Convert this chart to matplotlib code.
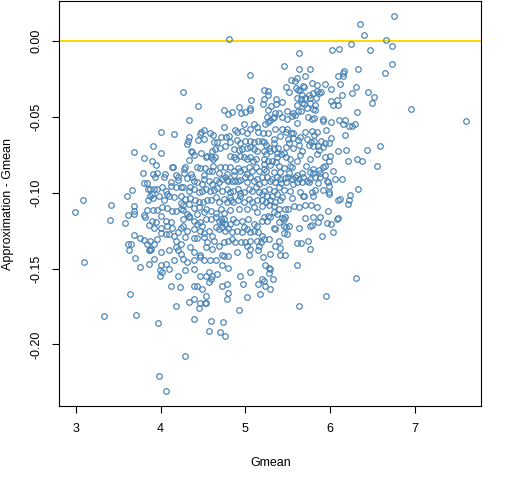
import matplotlib
matplotlib.use("Agg")
import matplotlib.pyplot as plt
import numpy as np

plt.rcParams['font.family'] = ['Liberation Sans', 'DejaVu Sans']

# (Gmean, Approximation - Gmean) pairs, region by region

# points round the edge of the cloud
edge_pts = [
    (6.76, 0.016), (6.35, 0.011), (6.40, 0.004), (4.81, 0.001), (6.66, 0.0007),
    (6.73, -0.0033), (6.25, -0.002), (5.63, -0.0079), (6.02, -0.0059), (6.11, -0.0053),
    (6.47, -0.0059), (6.73, -0.0151), (6.65, -0.021), (6.52, -0.037), (6.49, -0.041),
    (6.95, -0.0447), (7.60, -0.0526), (6.59, -0.069), (6.55, -0.0827),
    (3.80, -0.077), (3.79, -0.087), (3.84, -0.094), (3.81, -0.0936), (3.60, -0.102),
    (3.66, -0.098), (3.41, -0.108), (3.09, -0.105), (2.99, -0.1125), (3.40, -0.118),
    (3.58, -0.120), (3.69, -0.109), (3.69, -0.112), (3.69, -0.114), (3.62, -0.1145),
    (3.87, -0.0974), (3.85, -0.0974), (3.69, -0.073), (3.80, -0.115), (3.82, -0.116),
    (3.86, -0.1215), (3.84, -0.1116), (3.85, -0.105), (3.87, -0.102), (3.69, -0.1276),
    (3.61, -0.1336), (3.65, -0.1336), (3.63, -0.1375), (3.70, -0.143), (3.76, -0.1296),
    (3.80, -0.131), (3.87, -0.1375), (3.86, -0.1375), (3.84, -0.1336), (3.86, -0.1467),
    (3.76, -0.149), (3.10, -0.146), (3.87, -0.1316),
    (5.63, -0.175), (5.95, -0.168), (5.17, -0.1665), (5.02, -0.169), (4.93, -0.1775),
    (4.80, -0.166), (4.78, -0.170), (4.74, -0.1855), (4.70, -0.192), (4.76, -0.1945),
    (4.60, -0.1845), (4.57, -0.191), (4.53, -0.168), (4.52, -0.1726), (4.54, -0.173),
    (4.47, -0.173), (4.45, -0.176), (4.34, -0.172), (4.40, -0.170), (4.39, -0.183),
    (4.18, -0.175), (3.97, -0.186), (4.29, -0.2077), (3.98, -0.221), (4.06, -0.2307),
    (3.64, -0.1665), (3.33, -0.181), (3.71, -0.1807),
]

# upper left of the cloud
upper_left_pts = [
    (5.06, -0.0226), (4.27, -0.0338), (4.44, -0.0430), (4.33, -0.0522), (4.745, -0.0457),
    (4.80, -0.0483), (4.84, -0.0470), (4.93, -0.0437), (4.95, -0.0474), (5.00, -0.0472),
    (5.05, -0.0457), (5.06, -0.0446), (5.07, -0.0391), (4.00, -0.0601), (4.16, -0.0614),
    (3.91, -0.0693), (4.00, -0.0739), (4.31, -0.068), (4.325, -0.0658), (4.337, -0.0636),
    (4.46, -0.0614), (4.48, -0.0599), (4.51, -0.0588), (4.51, -0.0650), (4.443, -0.0654),
    (4.58, -0.0608), (4.62, -0.0619), (4.627, -0.0669), (4.666, -0.0665), (4.713, -0.0636),
    (4.776, -0.0636), (4.807, -0.0625), (4.815, -0.0669), (4.76, -0.0691), (4.70, -0.0707),
    (4.64, -0.0713), (4.607, -0.0724), (4.596, -0.0768), (4.62, -0.0779), (4.64, -0.0768),
    (4.549, -0.0757), (4.53, -0.0768), (4.478, -0.0737), (4.39, -0.0753), (4.353, -0.0724),
    (4.372, -0.0735), (4.333, -0.0785), (4.753, -0.0566), (4.882, -0.0588), (4.902, -0.0603),
    (4.956, -0.0597), (4.98, -0.0549), (5.023, -0.0610), (5.05, -0.0582), (5.098, -0.0549),
    (5.137, -0.0571), (5.149, -0.0603), (4.898, -0.0654), (4.94, -0.0671), (5.00, -0.0658),
    (5.058, -0.0663), (5.105, -0.0669), (5.149, -0.0658), (4.862, -0.0715), (4.921, -0.0720),
    (4.96, -0.0713), (5.019, -0.0707), (5.058, -0.0698), (5.098, -0.0713), (5.137, -0.0729),
    (4.815, -0.0757), (4.862, -0.0768), (4.894, -0.0781), (4.94, -0.0759), (4.98, -0.0768),
    (5.019, -0.0779), (5.058, -0.0768), (5.09, -0.0790), (5.13, -0.0779), (3.894, -0.0790),
    (3.95, -0.0818), (4.129, -0.0829), (4.149, -0.0829), (4.286, -0.0829), (4.274, -0.0847),
    (4.431, -0.0829), (4.47, -0.0838), (4.52, -0.0838), (4.568, -0.0856), (4.619, -0.0823),
    (4.611, -0.0856), (4.705, -0.0829), (4.764, -0.0834), (4.823, -0.0829), (4.862, -0.0856),
    (4.909, -0.0838), (4.94, -0.0856), (4.98, -0.0845), (5.039, -0.0834), (5.078, -0.0856),
    (5.129, -0.0834), (5.157, -0.0856), (3.913, -0.0878), (3.96, -0.0873), (4.058, -0.0878),
    (4.176, -0.0882), (4.274, -0.0873), (4.353, -0.0878), (4.51, -0.0882), (4.686, -0.0873),
    (4.784, -0.0878), (4.862, -0.0882), (5.019, -0.0878),
]

# upper right of the cloud
upper_right_pts = [
    (5.462, -0.0167), (5.639, -0.0185), (5.768, -0.0185), (6.168, -0.0200), (6.156, -0.0213),
    (6.333, -0.0185), (6.09, -0.0233), (6.156, -0.0233), (5.709, -0.0233), (5.537, -0.0259),
    (5.607, -0.0246), (5.588, -0.0264), (5.482, -0.0303), (5.592, -0.0312), (5.678, -0.0299),
    (5.694, -0.0303), (5.784, -0.0281), (5.843, -0.0294), (5.945, -0.0286), (6.121, -0.0286),
    (6.31, -0.0303), (5.215, -0.0321), (5.27, -0.0329), (5.266, -0.0360), (5.215, -0.0386),
    (5.521, -0.0338), (5.623, -0.0325), (5.647, -0.0321), (5.85, -0.0334), (5.89, -0.0338),
    (5.80, -0.0343), (5.752, -0.0360), (5.67, -0.0360), (5.615, -0.0378), (5.654, -0.0386),
    (5.701, -0.0378), (5.764, -0.0378), (5.831, -0.0378), (5.874, -0.0347), (6.007, -0.0316),
    (6.145, -0.0356), (6.262, -0.0343), (6.45, -0.0338), (5.356, -0.0386), (5.435, -0.0404),
    (5.356, -0.0417), (5.207, -0.0417), (5.305, -0.0430), (5.607, -0.0421), (5.666, -0.0413),
    (5.694, -0.0417), (5.764, -0.0413), (5.827, -0.0421), (6.015, -0.0395), (6.078, -0.0391),
    (6.09, -0.0426), (6.039, -0.0421), (5.27, -0.0457), (5.349, -0.0474), (5.396, -0.0478),
    (5.254, -0.0505), (5.286, -0.0522), (5.262, -0.0535), (5.231, -0.0549), (5.325, -0.0509),
    (5.341, -0.0505), (5.486, -0.0465), (5.568, -0.0474), (5.619, -0.0465), (5.654, -0.0461),
    (5.733, -0.0443), (5.80, -0.0452), (5.819, -0.0457), (5.549, -0.0496), (5.584, -0.0492),
    (5.49, -0.0518), (5.427, -0.0505), (5.737, -0.0505), (5.784, -0.0516), (5.811, -0.0511),
    (5.615, -0.0540), (5.913, -0.0518), (5.921, -0.0531), (6.015, -0.0535), (6.105, -0.0522),
    (6.172, -0.0522), (6.156, -0.0549), (6.313, -0.0470), (6.219, -0.0562), (6.254, -0.0562),
    (6.294, -0.0549), (5.266, -0.0606), (5.349, -0.0579), (5.427, -0.0584), (5.494, -0.0579),
    (5.474, -0.0601), (5.533, -0.0610), (5.56, -0.0606), (5.701, -0.0601), (5.784, -0.0597),
    (5.807, -0.0619), (5.85, -0.0601), (5.956, -0.0588), (6.015, -0.0641), (5.207, -0.0606),
    (5.333, -0.0650), (5.411, -0.0628), (5.498, -0.0650), (5.568, -0.0641), (5.623, -0.0654),
    (5.647, -0.0636), (5.725, -0.0650), (5.78, -0.0667), (5.815, -0.0658), (5.898, -0.0658),
    (5.945, -0.0671), (5.992, -0.0676), (6.172, -0.0619), (5.521, -0.0676), (5.333, -0.0671),
    (5.223, -0.0667), (5.247, -0.0685), (5.196, -0.0658), (5.278, -0.0707), (5.333, -0.0715),
    (5.38, -0.0707), (5.482, -0.0698), (5.568, -0.0707), (5.639, -0.0689), (5.666, -0.0724),
    (5.749, -0.0689), (5.80, -0.0693), (5.858, -0.0693), (5.874, -0.0720), (5.921, -0.0702),
    (6.098, -0.0724), (6.188, -0.0720), (6.43, -0.0720), (5.223, -0.0724), (5.239, -0.0746),
    (5.294, -0.0724), (5.372, -0.0737), (5.419, -0.0746), (5.458, -0.0737), (5.482, -0.0768),
    (5.529, -0.0777), (5.607, -0.0790), (5.647, -0.0755), (5.764, -0.0777), (5.85, -0.0746),
    (5.937, -0.0768), (6.00, -0.0759), (5.992, -0.0794), (6.215, -0.0790), (6.313, -0.0777),
    (6.376, -0.0794), (5.215, -0.0781), (5.262, -0.0790), (5.317, -0.0790), (5.364, -0.0799),
    (5.372, -0.0768), (5.215, -0.0812), (5.294, -0.0821), (5.396, -0.0825), (5.458, -0.0838),
    (5.529, -0.0825), (5.553, -0.0834), (5.717, -0.0825), (5.80, -0.0843), (5.866, -0.0851),
    (5.921, -0.0834), (5.945, -0.0825), (6.031, -0.0856), (5.215, -0.0847), (5.247, -0.0856),
    (5.333, -0.0864), (5.411, -0.0864), (5.521, -0.0869), (5.607, -0.0882), (5.666, -0.0873),
    (5.764, -0.0864), (5.80, -0.0873), (5.882, -0.0869), (5.945, -0.0882),
]

# lower left of the cloud
lower_left_pts = [
    (3.94, -0.0895), (4.04, -0.0895), (4.20, -0.0895), (4.20, -0.0914), (4.31, -0.0906),
    (4.37, -0.0899), (4.39, -0.0921), (4.43, -0.0932), (4.49, -0.0943), (4.51, -0.0910),
    (4.57, -0.0921), (4.61, -0.0943), (4.65, -0.0914), (4.69, -0.0932), (4.73, -0.0910),
    (4.76, -0.0899), (4.78, -0.0914), (4.80, -0.0921), (4.84, -0.0921), (4.88, -0.0921),
    (4.91, -0.0921), (4.94, -0.0914), (5.00, -0.0899), (5.02, -0.0932), (5.06, -0.0899),
    (5.10, -0.0921), (5.14, -0.0910), (5.16, -0.0943), (4.12, -0.0932),
    (3.92, -0.0976), (3.96, -0.0976), (4.02, -0.0965), (4.06, -0.0987), (4.12, -0.0954),
    (4.18, -0.0965), (4.24, -0.0965), (4.27, -0.0965), (4.33, -0.0987), (4.35, -0.0965),
    (4.39, -0.0976), (4.45, -0.0998), (4.49, -0.0987), (4.53, -0.0976), (4.58, -0.0987),
    (4.63, -0.0980), (4.67, -0.0971), (4.73, -0.0987), (4.78, -0.0976), (4.82, -0.0993),
    (4.86, -0.0987), (4.91, -0.0976), (4.94, -0.1002), (4.98, -0.0993), (5.04, -0.0976),
    (5.08, -0.0987), (5.13, -0.0965), (5.16, -0.0998), (3.90, -0.1009), (3.98, -0.1020),
    (4.08, -0.1009),
    (3.91, -0.1037), (4.04, -0.1052), (4.10, -0.1024), (4.16, -0.1031), (4.24, -0.1024),
    (4.29, -0.1042), (4.35, -0.1037), (4.41, -0.1046), (4.45, -0.1059), (4.50, -0.1063),
    (4.55, -0.1052), (4.60, -0.1046), (4.65, -0.1031), (4.69, -0.1063), (4.75, -0.1042),
    (4.78, -0.1063), (4.82, -0.1031), (4.83, -0.1046), (4.86, -0.1063), (4.91, -0.1046),
    (4.94, -0.1020), (4.98, -0.1063), (5.04, -0.1042), (5.08, -0.1059), (5.14, -0.1046),
    (4.24, -0.1068), (4.26, -0.1081), (4.33, -0.1074),
    (3.91, -0.1114), (3.96, -0.1112), (4.02, -0.1096), (4.08, -0.1103), (4.14, -0.1118),
    (4.18, -0.1118), (4.24, -0.1107), (4.26, -0.1112), (4.31, -0.1140), (4.39, -0.1103),
    (4.45, -0.1096), (4.51, -0.1129), (4.53, -0.1107), (4.59, -0.1118), (4.65, -0.1134),
    (4.71, -0.1107), (4.75, -0.1134), (4.82, -0.1112), (4.92, -0.1107), (5.02, -0.1107),
    (5.10, -0.1096), (5.14, -0.1129), (4.43, -0.1140), (4.33, -0.1151),
    (3.90, -0.1184), (3.95, -0.1195), (4.00, -0.1151), (4.06, -0.1184), (4.12, -0.1195),
    (4.27, -0.1173), (4.33, -0.1162), (4.39, -0.1184), (4.43, -0.1206), (4.47, -0.1191),
    (4.49, -0.1217), (4.53, -0.1173), (4.59, -0.1173), (4.65, -0.1162), (4.69, -0.1184),
    (4.71, -0.1173), (4.73, -0.1195), (4.75, -0.1173), (4.76, -0.1206), (4.82, -0.1206),
    (4.86, -0.1173), (4.89, -0.1195), (4.96, -0.1184), (5.03, -0.1173), (5.10, -0.1206),
    (5.14, -0.1217),
    (3.92, -0.1234), (4.00, -0.1234), (4.08, -0.1217), (4.14, -0.1234), (4.20, -0.1261),
    (4.24, -0.1234), (4.27, -0.1221), (4.31, -0.1250), (4.39, -0.1243), (4.46, -0.1256),
    (4.51, -0.1265), (4.57, -0.1250), (4.65, -0.1228), (4.69, -0.1239), (4.73, -0.1228),
    (4.76, -0.1250), (4.80, -0.1234), (4.84, -0.1261), (4.90, -0.1250), (4.96, -0.1261),
    (4.99, -0.1228), (5.02, -0.1239), (5.06, -0.1261), (5.10, -0.1250), (5.15, -0.1261),
    (4.06, -0.1272), (4.10, -0.1272), (4.00, -0.1265),
    (3.96, -0.1305), (3.92, -0.1338), (4.16, -0.1283), (4.18, -0.1316), (4.24, -0.1338),
    (4.29, -0.1294), (4.39, -0.1300), (4.43, -0.1300), (4.51, -0.1294), (4.55, -0.1327),
    (4.61, -0.1283), (4.63, -0.1316), (4.69, -0.1349), (4.75, -0.1327), (4.80, -0.1316),
    (4.84, -0.1305), (4.88, -0.1327), (4.95, -0.1327), (5.00, -0.1327), (5.02, -0.1349),
    (5.06, -0.1316), (5.14, -0.1316), (5.16, -0.1349),
    (3.89, -0.1370), (4.00, -0.1392), (4.10, -0.1381), (4.18, -0.1359), (4.20, -0.1381),
    (4.24, -0.1403), (4.35, -0.1359), (4.39, -0.1392), (4.47, -0.1414), (4.53, -0.1359),
    (4.61, -0.1370), (4.73, -0.1410), (4.75, -0.1419), (4.79, -0.1419), (4.90, -0.1392),
    (5.04, -0.1410), (5.06, -0.1370), (5.15, -0.1381),
    (4.06, -0.1469), (4.00, -0.1476), (3.92, -0.1436), (4.16, -0.1447), (4.27, -0.1436),
    (4.31, -0.1458), (4.39, -0.1447), (4.47, -0.1425), (4.51, -0.1447), (4.58, -0.1447),
    (4.65, -0.1447), (4.73, -0.1480), (4.80, -0.1498),
    (3.99, -0.1513), (4.02, -0.1524), (3.99, -0.1546), (4.10, -0.1502), (4.20, -0.1546),
    (4.29, -0.1513), (4.39, -0.1502), (4.47, -0.1546), (4.53, -0.1546), (4.57, -0.1524),
    (4.61, -0.1546), (4.67, -0.1535), (4.94, -0.1552), (5.06, -0.1524), (4.97, -0.1601),
    (4.78, -0.1601), (4.59, -0.1568), (4.57, -0.1590), (4.43, -0.1612), (4.49, -0.1634),
    (4.39, -0.1612), (4.12, -0.1612), (4.23, -0.1625), (4.73, -0.1612), (5.15, -0.1601),
]

# lower right of the cloud
lower_right_pts = [
    (5.196, -0.0899), (5.254, -0.0899), (5.313, -0.0910), (5.372, -0.0899), (5.411, -0.0910),
    (5.47, -0.0906), (5.509, -0.0895), (5.549, -0.0910), (5.588, -0.0895), (5.639, -0.0910),
    (5.686, -0.0899), (5.725, -0.0921), (5.764, -0.0910), (5.823, -0.0899), (5.882, -0.0895),
    (5.96, -0.0921), (5.98, -0.0932), (6.058, -0.0910), (6.137, -0.0910), (5.215, -0.0932),
    (5.286, -0.0921), (5.352, -0.0927), (5.419, -0.0936), (5.482, -0.0932), (5.568, -0.0943),
    (5.615, -0.0932), (5.666, -0.0932), (5.756, -0.0932), (5.862, -0.0936), (5.992, -0.0958),
    (6.333, -0.0976), (5.921, -0.0984), (5.823, -0.0980), (5.784, -0.0998), (5.698, -0.1020),
    (5.647, -0.0993), (5.529, -0.0987), (5.458, -0.0980), (5.392, -0.0965), (5.333, -0.0987),
    (5.274, -0.0976), (5.215, -0.0987), (5.196, -0.1009), (5.254, -0.1020), (5.313, -0.1020),
    (5.372, -0.1009), (5.431, -0.1031), (5.556, -0.1035), (5.686, -0.1020), (5.80, -0.1024),
    (5.992, -0.0993), (5.992, -0.1009), (6.117, -0.1042), (6.098, -0.1048), (6.235, -0.1015),
    (6.227, -0.1046), (6.215, -0.1074), (5.196, -0.1052), (5.247, -0.1059), (5.294, -0.1046),
    (5.352, -0.1059), (5.411, -0.1052), (5.333, -0.1085), (5.274, -0.1081), (5.196, -0.1090),
    (5.392, -0.1107), (5.47, -0.1107), (5.498, -0.1107), (5.58, -0.1090), (5.639, -0.1096),
    (5.705, -0.1079), (5.772, -0.1079), (5.843, -0.1096), (5.98, -0.1120), (5.215, -0.1162),
    (5.262, -0.1151), (5.286, -0.1162), (5.333, -0.1129), (5.372, -0.1140), (5.431, -0.1169),
    (5.458, -0.1177), (5.196, -0.1184), (5.254, -0.1184), (5.392, -0.1195), (5.47, -0.1162),
    (5.705, -0.1166), (5.80, -0.1162), (5.862, -0.1191), (5.882, -0.1162), (5.96, -0.1202),
    (6.007, -0.1206), (6.078, -0.1173), (6.098, -0.1166), (5.521, -0.1217), (5.482, -0.1228),
    (5.462, -0.1221), (5.639, -0.1232), (5.764, -0.1217), (5.784, -0.1213), (5.333, -0.1234),
    (5.352, -0.1243), (5.458, -0.1265), (5.49, -0.1272), (6.039, -0.1261), (5.909, -0.1287),
    (5.196, -0.1283), (5.215, -0.1305), (5.274, -0.1305), (5.188, -0.1327), (5.392, -0.1322),
    (5.352, -0.1349), (5.411, -0.1364), (5.615, -0.1331), (5.654, -0.1331), (5.737, -0.1320),
    (5.764, -0.1370), (5.286, -0.1403), (5.411, -0.1410), (5.47, -0.1414), (5.207, -0.1427),
    (5.235, -0.1480), (5.274, -0.1498), (5.294, -0.1502), (5.274, -0.1531), (5.615, -0.1476),
    (5.325, -0.1568), (5.215, -0.1585), (5.235, -0.1612), (5.294, -0.1634), (6.301, -0.1561),
    (5.196, -0.1568),
]

x_ticks = [3, 4, 5, 6, 7]
y_ticks = [-0.20, -0.15, -0.10, -0.05, 0.00]

pts = np.array(edge_pts + upper_left_pts + upper_right_pts + lower_left_pts + lower_right_pts)
gmean = pts[:, 0]
diff = pts[:, 1]

fig = plt.figure(figsize=(5.12, 4.8), dpi=100)
ax = fig.add_axes([0.116, 0.154, 0.824, 0.843])

ax.axhline(0, color='#FFD700', lw=1.4, zorder=1)
ax.plot(gmean, diff, 'o', mfc='none', mec='#4682B4', ms=4.0, mew=0.85, zorder=2)

ax.set_xlim(2.806, 7.784)
ax.set_ylim(-0.2406, 0.0259)
ax.set_xticks(x_ticks)
ax.set_yticks(y_ticks)
ax.set_yticklabels(['%.2f' % v for v in y_ticks], rotation=90, va='center')

ax.tick_params(direction='out', length=5, width=0.8, labelsize=9, pad=7, colors='black')
for s in ax.spines.values():
    s.set_linewidth(0.8)

ax.set_xlabel('Gmean', fontsize=9)
ax.set_ylabel('Approximation - Gmean', fontsize=9)
ax.xaxis.set_label_coords(0.5, -0.126)
ax.yaxis.set_label_coords(-0.108, 0.5)

fig.savefig('out.png', dpi=100)
